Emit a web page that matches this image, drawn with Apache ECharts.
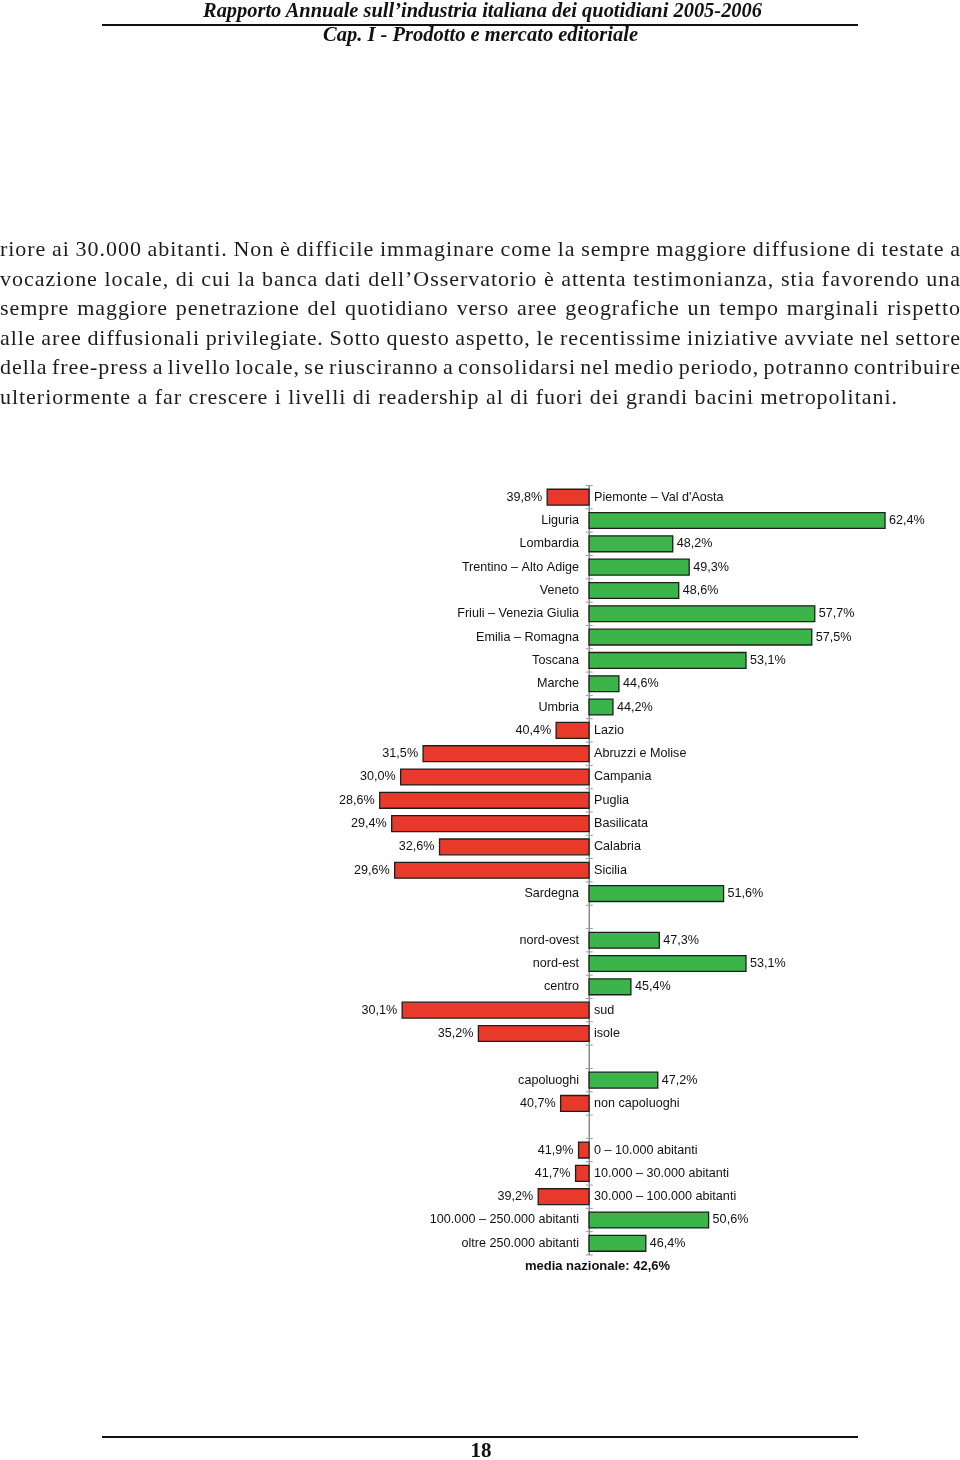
<!DOCTYPE html>
<html>
<head>
<meta charset="utf-8">
<script src="https://cdn.jsdelivr.net/npm/echarts@6/dist/echarts.min.js"></script>
<style>
html,body{margin:0;padding:0;background:#fff;}
#page{position:relative;width:960px;height:1460px;overflow:hidden;background:#fff;}
#chart{position:absolute;left:0;top:0;width:960px;height:1460px;}
.hdr{position:absolute;white-space:nowrap;font-family:"Liberation Serif","DejaVu Serif",serif;font-weight:bold;font-style:italic;color:#111;line-height:1;transform-origin:0 0;}
.rule{position:absolute;left:102px;width:756px;height:2px;background:#111;}
.txt{position:absolute;left:0;white-space:nowrap;font-family:"Liberation Serif","DejaVu Serif",serif;line-height:1;color:#1c1c1c;}
.pnum{position:absolute;white-space:nowrap;font-family:"Liberation Serif",serif;font-weight:bold;color:#111;line-height:1;}
</style>
</head>
<body>
<div id="page">
  <div id="chart"></div>
  <span class="hdr" id="h1"></span>
  <div class="rule" style="top:24px;"></div>
  <span class="hdr" id="h2"></span>
  <div id="para"></div>
  <div class="rule" style="top:1436px;"></div>
  <span class="pnum" id="pn"></span>
</div>
<script>
// ---------------- data ----------------
const nationalAverage = 42.6;

const regions = ["Piemonte – Val d'Aosta", "Liguria", "Lombardia", "Trentino – Alto Adige", "Veneto",
  "Friuli – Venezia Giulia", "Emilia – Romagna", "Toscana", "Marche", "Umbria", "Lazio",
  "Abruzzi e Molise", "Campania", "Puglia", "Basilicata", "Calabria", "Sicilia", "Sardegna"];
const regionValues = [39.8, 62.4, 48.2, 49.3, 48.6, 57.7, 57.5, 53.1, 44.6, 44.2, 40.4,
  31.5, 30.0, 28.6, 29.4, 32.6, 29.6, 51.6];

const areas = ["nord-ovest", "nord-est", "centro", "sud", "isole"];
const areaValues = [47.3, 53.1, 45.4, 30.1, 35.2];

const cityTypes = ["capoluoghi", "non capoluoghi"];
const cityTypeValues = [47.2, 40.7];

const sizeClasses = ["0 – 10.000 abitanti", "10.000 – 30.000 abitanti", "30.000 – 100.000 abitanti",
  "100.000 – 250.000 abitanti", "oltre 250.000 abitanti"];
const sizeClassValues = [41.9, 41.7, 39.2, 50.6, 46.4];

const noteText = "media nazionale: 42,6%";

const headerLine1 = "Rapporto Annuale sull’industria italiana dei quotidiani 2005-2006";
const headerLine2 = "Cap. I - Prodotto e mercato editoriale";
const paragraphLines = [
  "riore ai 30.000 abitanti. Non è difficile immaginare come la sempre maggiore diffusione di testate a",
  "vocazione locale, di cui la banca dati dell’Osservatorio è attenta testimonianza, stia favorendo una",
  "sempre maggiore penetrazione del quotidiano verso aree geografiche un tempo marginali rispetto",
  "alle aree diffusionali privilegiate. Sotto questo aspetto, le recentissime iniziative avviate nel settore",
  "della free-press a livello locale, se riusciranno a consolidarsi nel medio periodo, potranno contribuire",
  "ulteriormente a far crescere i livelli di readership al di fuori dei grandi bacini metropolitani."
];
const pageNumber = "18";

// ---------------- page text ----------------
function measure(el){ return el.getBoundingClientRect().width; }
function placeHeader(id, text, fs, baseline, left, width){
  const el = document.getElementById(id);
  el.textContent = text;
  el.style.fontSize = fs + 'px';
  const w = measure(el);
  el.style.left = left + 'px';
  el.style.top = (baseline - 0.8375 * fs) + 'px';
  el.style.transform = 'scaleX(' + (width / w) + ')';
}
placeHeader('h1', headerLine1, 22, 17.5, 203, 559);
placeHeader('h2', headerLine2, 21, 42, 323, 315);

(function(){
  const fs = 22;
  const para = document.getElementById('para');
  const els = paragraphLines.map(t => {
    const s = document.createElement('span');
    s.className = 'txt';
    s.textContent = t;
    s.style.fontSize = fs + 'px';
    para.appendChild(s);
    return s;
  });
  // letter spacing so the last (unjustified) line ends where it does in the page
  const w6 = measure(els[5]);
  const ls = (898 - w6) / paragraphLines[5].length;
  const baselines = [256.5, 286, 315.5, 345, 374.5, 404];
  els.forEach((s, i) => {
    s.style.letterSpacing = ls + 'px';
    s.style.top = (baselines[i] - 0.8375 * fs) + 'px';
    if (i < 5) {
      const w = measure(s) - ls;
      const spaces = (paragraphLines[i].match(/ /g) || []).length;
      s.style.wordSpacing = ((960 - w) / spaces) + 'px';
    }
  });
  const pn = document.getElementById('pn');
  pn.textContent = pageNumber;
  pn.style.fontSize = '21px';
  const pw = measure(pn);
  pn.style.left = (481 - pw / 2) + 'px';
  pn.style.top = (1458 - 0.8375 * 21) + 'px';
})();

// ---------------- chart ----------------
const rows = [];
function addGroup(names, vals){ names.forEach((n, i) => rows.push({ type: 'bar', name: n, value: vals[i] })); }
addGroup(regions, regionValues);
rows.push({ type: 'blank' });
addGroup(areas, areaValues);
rows.push({ type: 'blank' });
addGroup(cityTypes, cityTypeValues);
rows.push({ type: 'blank' });
addGroup(sizeClasses, sizeClassValues);
rows.push({ type: 'note', name: noteText });

const axisRowCount = rows.length - 1;
const RED = '#e8392b', GREEN = '#3bb44a', STROKE = '#1e1e1e';
const LABEL_FONT = '12.6px "Liberation Sans", Arial, sans-serif';
const fmt = v => v.toFixed(1).replace('.', ',') + '%';

const chart = echarts.init(document.getElementById('chart'), null, { renderer: 'canvas' });
const rowH = 23.316;

chart.setOption({
  animation: false,
  backgroundColor: 'transparent',
  grid: { left: 325.9, right: 36.1, top: 497.2 - rowH / 2, height: rowH * rows.length },
  xAxis: { type: 'value', min: 25, max: 65, show: false },
  yAxis: { type: 'category', data: rows.map((r, i) => String(i)), inverse: true, show: false },
  series: [
    {
      type: 'custom',
      z: 1,
      silent: true,
      data: rows.slice(0, axisRowCount).map((r, i) => [nationalAverage, i]),
      renderItem: function(params, api){
        const c = api.coord([api.value(0), api.value(1)]);
        const h = api.size([0, 1])[1];
        const x = Math.round(c[0]) + 0.25;
        const top = c[1] - h / 2, bot = c[1] + h / 2;
        const kids = [
          { type: 'line', shape: { x1: x, y1: top, x2: x, y2: bot }, style: { stroke: '#8c8c8c', lineWidth: 1.5 } },
          { type: 'line', shape: { x1: x - 3.5, y1: top, x2: x + 3.5, y2: top }, style: { stroke: '#9a9a9a', lineWidth: 1 } }
        ];
        if (params.dataIndex === axisRowCount - 1) {
          kids.push({ type: 'line', shape: { x1: x - 3.5, y1: bot, x2: x + 3.5, y2: bot }, style: { stroke: '#9a9a9a', lineWidth: 1 } });
        }
        return { type: 'group', children: kids };
      }
    },
    {
      type: 'custom',
      z: 2,
      silent: true,
      data: rows.map((r, i) => [r.type === 'bar' ? r.value : nationalAverage, i]),
      renderItem: function(params, api){
        const r = rows[params.dataIndex];
        const i = api.value(1);
        const base = api.coord([nationalAverage, i]);
        if (r.type === 'blank') return null;
        if (r.type === 'note') {
          return { type: 'text', style: { x: base[0] + 8.5, y: base[1], text: r.name, align: 'center', verticalAlign: 'middle',
            fill: '#111', font: 'bold 13px "Liberation Sans", Arial, sans-serif' } };
        }
        const end = api.coord([r.value, i]);
        const h = api.size([0, 1])[1] * 0.68;
        const up = r.value >= nationalAverage;
        const x0 = Math.min(base[0], end[0]), w = Math.abs(end[0] - base[0]);
        return {
          type: 'group',
          children: [
            { type: 'rect', shape: { x: x0, y: base[1] - h / 2, width: w, height: h },
              style: { fill: up ? GREEN : RED, stroke: STROKE, lineWidth: 1.3 } },
            { type: 'text', style: { x: up ? end[0] + 4 : end[0] - 5, y: base[1], text: fmt(r.value),
              align: up ? 'left' : 'right', verticalAlign: 'middle', fill: '#111', font: LABEL_FONT } },
            { type: 'text', style: { x: up ? base[0] - 10 : base[0] + 5, y: base[1], text: r.name,
              align: up ? 'right' : 'left', verticalAlign: 'middle', fill: '#111', font: LABEL_FONT } }
          ]
        };
      }
    }
  ]
});
</script>
</body>
</html>
